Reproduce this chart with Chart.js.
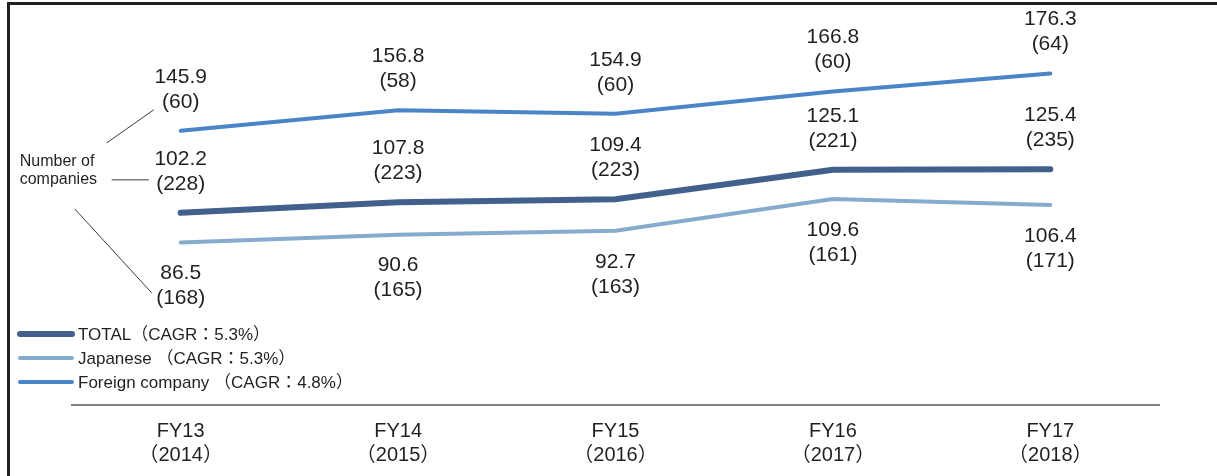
<!DOCTYPE html>
<html>
<head>
<meta charset="utf-8">
<script src="https://cdn.jsdelivr.net/npm/chart.js@4.4.0/dist/chart.umd.min.js"></script>
<style>
  html, body { margin: 0; padding: 0; background: #fff; overflow: hidden; }
  #wrap { position: relative; width: 1217px; height: 476px; }
  #wrap canvas { position: absolute; left: 0; top: 0; }
  #frame { position: absolute; left: 7px; top: 2px; width: 1400px; height: 600px;
           border-left: 3px solid #231f20; border-top: 3px solid #231f20; pointer-events: none; }
</style>
</head>
<body>
<div id="wrap">
  <canvas id="chart" width="1217" height="476"></canvas>
  <div id="frame"></div>
</div>
<script>
// Fiscal years and calendar years
const categories = ['FY13', 'FY14', 'FY15', 'FY16', 'FY17'];
const years = ['2014', '2015', '2016', '2017', '2018'];

// Market size per group, with number of companies in brackets
const totalValues = [102.2, 107.8, 109.4, 125.1, 125.4];
const totalCounts = [228, 223, 223, 221, 235];
const japaneseValues = [86.5, 90.6, 92.7, 109.6, 106.4];
const japaneseCounts = [168, 165, 163, 161, 171];
const foreignValues = [145.9, 156.8, 154.9, 166.8, 176.3];
const foreignCounts = [60, 58, 60, 60, 64];

const seriesNames = ['TOTAL（CAGR：5.3%）', 'Japanese （CAGR：5.3%）', 'Foreign company （CAGR：4.8%）'];
const noteLines = ['Number of', 'companies'];

const FONT = '"Liberation Sans", Arial, "Noto Sans CJK JP", sans-serif';
const TEXT = '#231f20';

// Value / count labels: above the line for TOTAL and Foreign, below for Japanese
const valueLabels = {
  id: 'valueLabels',
  afterDatasetsDraw(chart) {
    const ctx = chart.ctx;
    ctx.save();
    ctx.font = '21px ' + FONT;
    ctx.fillStyle = TEXT;
    ctx.textAlign = 'center';
    ctx.textBaseline = 'middle';
    chart.data.datasets.forEach((ds, i) => {
      const meta = chart.getDatasetMeta(i);
      const off = ds.labelOffsets;
      meta.data.forEach((pt, j) => {
        ctx.fillText(ds.data[j].toFixed(1), pt.x, pt.y + off[0]);
        ctx.fillText('(' + ds.counts[j] + ')', pt.x, pt.y + off[1]);
      });
    });
    ctx.restore();
  }
};

// Legend block in the lower left of the plot
const sideLegend = {
  id: 'sideLegend',
  afterDraw(chart) {
    const ctx = chart.ctx;
    const area = chart.chartArea;
    ctx.save();
    ctx.font = '17px ' + FONT;
    ctx.textAlign = 'left';
    ctx.textBaseline = 'middle';
    chart.data.datasets.forEach((ds, i) => {
      const y = area.bottom - 71 + i * 24;
      ctx.strokeStyle = ds.borderColor;
      ctx.lineWidth = ds.borderWidth;
      ctx.lineCap = 'round';
      ctx.beginPath();
      ctx.moveTo(area.left - 52, y);
      ctx.lineTo(area.left, y);
      ctx.stroke();
      ctx.fillStyle = TEXT;
      ctx.fillText(ds.label, area.left + 6, y + 1);
    });
    ctx.restore();
  }
};

// "Number of companies" note with leader lines to the first bracketed counts
const companyNote = {
  id: 'companyNote',
  afterDraw(chart) {
    const ctx = chart.ctx;
    const x0 = chart.scales.x.getPixelForValue(0);
    const yT = chart.getDatasetMeta(0).data[0].y;
    ctx.save();
    ctx.font = '16px ' + FONT;
    ctx.fillStyle = TEXT;
    ctx.textAlign = 'left';
    ctx.textBaseline = 'middle';
    ctx.fillText(noteLines[0], x0 - 161, yT - 51);
    ctx.fillText(noteLines[1], x0 - 161, yT - 33);
    ctx.strokeStyle = '#3a3a3a';
    ctx.lineWidth = 1;
    const segs = [
      [x0 - 74, yT - 70, x0 - 27, yT - 103],
      [x0 - 69, yT - 33, x0 - 32, yT - 33],
      [x0 - 106, yT - 4, x0 - 29, yT + 80]
    ];
    segs.forEach(s => {
      ctx.beginPath();
      ctx.moveTo(s[0], s[1]);
      ctx.lineTo(s[2], s[3]);
      ctx.stroke();
    });
    ctx.restore();
  }
};

new Chart(document.getElementById('chart'), {
  type: 'line',
  data: {
    labels: categories.map((c, i) => [c, '（' + years[i] + '）']),
    datasets: [
      { label: seriesNames[0], data: totalValues, counts: totalCounts,
        borderColor: '#41618c', borderWidth: 6, labelOffsets: [-54, -29] },
      { label: seriesNames[1], data: japaneseValues, counts: japaneseCounts,
        borderColor: '#87aacf', borderWidth: 4, labelOffsets: [31, 56] },
      { label: seriesNames[2], data: foreignValues, counts: foreignCounts,
        borderColor: '#4a85c8', borderWidth: 4, labelOffsets: [-54, -29] }
    ].map(d => Object.assign(d, {
      pointRadius: 0, pointHoverRadius: 0, tension: 0, fill: false,
      borderCapStyle: 'round'
    }))
  },
  options: {
    responsive: false,
    animation: false,
    devicePixelRatio: 1,
    layout: { padding: { left: 72, right: 58, top: 29, bottom: 0 } },
    plugins: { legend: { display: false }, tooltip: { enabled: false } },
    scales: {
      x: {
        offset: true,
        grid: { display: false, drawTicks: false },
        border: { display: true, color: '#808080', width: 2 },
        ticks: { color: TEXT, font: { family: FONT, size: 20 }, padding: 14,
                 maxRotation: 0, autoSkip: false },
        afterFit(scale) { scale.height = 71; }
      },
      y: { display: false, min: 0, max: 200 }
    }
  },
  plugins: [valueLabels, sideLegend, companyNote]
});
</script>
</body>
</html>
